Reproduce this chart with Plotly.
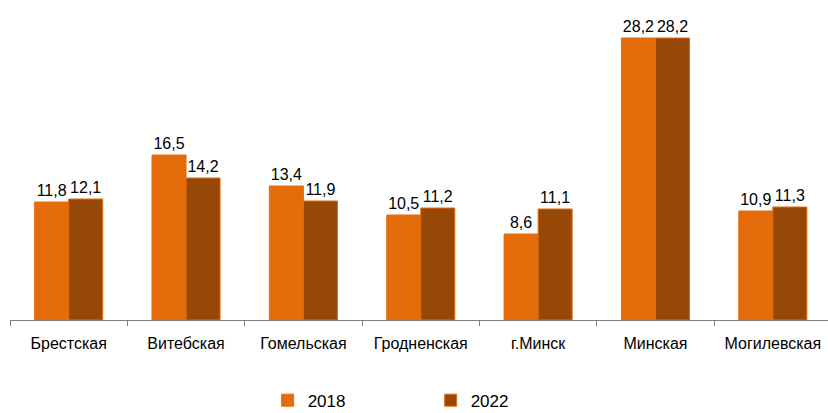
import plotly.graph_objects as go

regions = ["Брестская", "Витебская", "Гомельская", "Гродненская", "г.Минск", "Минская", "Могилевская"]
v2018 = [11.8, 16.5, 13.4, 10.5, 8.6, 28.2, 10.9]
v2022 = [12.1, 14.2, 11.9, 11.2, 11.1, 28.2, 11.3]

font_family = "Liberation Sans, Arial, sans-serif"

fig = go.Figure()
fig.add_trace(go.Bar(
    x=regions, y=v2018, name="2018",
    marker=dict(color="#E46C0A", line=dict(color="#E46C0A", width=1)),
    text=[f"{v:.1f}".replace(".", ",") for v in v2018],
    textposition="outside", cliponaxis=False, constraintext="none",
    textfont=dict(size=16, color="#000000", family=font_family),
))
fig.add_trace(go.Bar(
    x=regions, y=v2022, name="2022",
    marker=dict(color="#974706", line=dict(color="#E46C0A", width=1)),
    text=[f"{v:.1f}".replace(".", ",") for v in v2022],
    textposition="outside", cliponaxis=False, constraintext="none",
    textfont=dict(size=16, color="#000000", family=font_family),
))

fig.update_layout(
    width=828, height=413,
    margin=dict(l=10, r=0, t=20, b=93, autoexpand=False),
    barmode="group", bargap=0.42, bargroupgap=0,
    plot_bgcolor="white", paper_bgcolor="white",
    font=dict(family=font_family, size=16, color="#000000"),
    separators=", ",
    showlegend=True,
    legend=dict(
        orientation="h", x=0.315, xref="paper", y=0.03, yref="container",
        xanchor="left", yanchor="middle",
        entrywidth=118, entrywidthmode="pixels",
        font=dict(size=17, family=font_family), itemwidth=30,
        traceorder="normal",
    ),
)
fig.update_xaxes(
    range=[-0.5, 6.47], tickangle=0, automargin=False,
    showline=True, linecolor="#7F7F7F", linewidth=1,
    ticks="outside", ticklen=5, tickcolor="#7F7F7F", tickson="boundaries",
    ticklabelstandoff=9,
    tickfont=dict(size=16, family=font_family), showgrid=False,
)
fig.update_yaxes(
    range=[0, 30], visible=False, showgrid=False, zeroline=False,
)

fig.write_html("out.html")
